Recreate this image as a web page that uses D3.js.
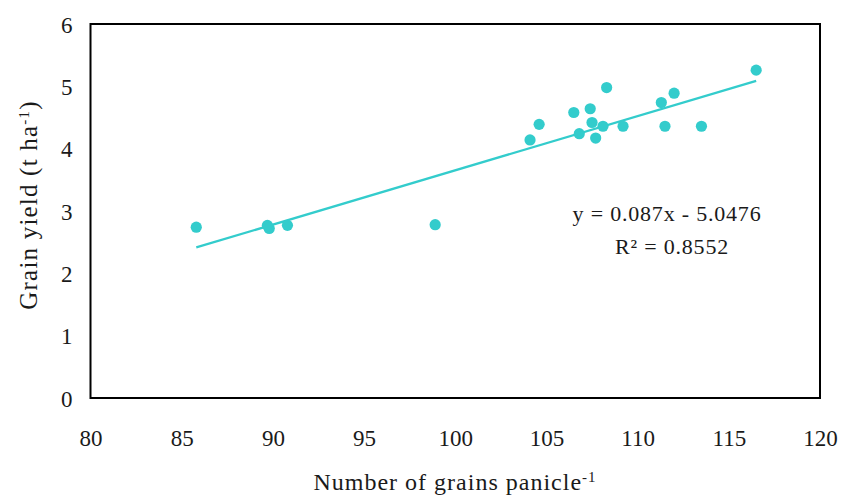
<!DOCTYPE html>
<html>
<head>
<meta charset="utf-8">
<script src="https://cdn.jsdelivr.net/npm/d3@7"></script>
<style>
  html, body { margin: 0; padding: 0; background: #fff; }
  svg text { font-family: "Liberation Serif", "Times New Roman", serif; fill: #1a1a1a; }
</style>
</head>
<body>
<svg id="chart" width="842" height="498"></svg>
<script>
// Grains per panicle vs. grain yield
const grains = [85.8, 89.7, 89.8, 90.8, 98.9, 104.1, 104.6, 106.5, 106.8, 107.4,
                107.5, 107.7, 108.1, 108.3, 109.2, 111.3, 111.5, 112.0, 113.5, 116.5];
const grainYield = [2.74, 2.77, 2.72, 2.77, 2.78, 4.14, 4.39, 4.58, 4.24, 4.64,
                    4.42, 4.17, 4.36, 4.98, 4.36, 4.74, 4.36, 4.89, 4.36, 5.26];

// Linear fit reported on the chart
const slope = 0.087;
const intercept = -5.0476;
const equationText = "y = 0.087x - 5.0476";
const r2Text = "R² = 0.8552";

const xTicks = [80, 85, 90, 95, 100, 105, 110, 115, 120];
const yTicks = [0, 1, 2, 3, 4, 5, 6];

const svg = d3.select("#chart");
const plot = { left: 90.5, right: 820, top: 24, bottom: 398 };
const color = "#33cccc";

const x = d3.scaleLinear().domain([80, 120]).range([plot.left, plot.right]);
const y = d3.scaleLinear().domain([0, 6]).range([plot.bottom, plot.top]);

// Axes: labels only, no tick marks or domain path
const xAxis = svg.append("g")
  .attr("transform", `translate(0,${plot.bottom})`)
  .call(d3.axisBottom(x).tickValues(xTicks).tickSize(0).tickPadding(0).tickFormat(d3.format("d")));
xAxis.select(".domain").remove();
xAxis.selectAll("text")
  .attr("y", 48).attr("dy", null)
  .style("font-size", "23px");

const yAxis = svg.append("g")
  .attr("transform", `translate(${plot.left},0)`)
  .call(d3.axisLeft(y).tickValues(yTicks).tickSize(0).tickPadding(0).tickFormat(d3.format("d")));
yAxis.select(".domain").remove();
yAxis.selectAll("text")
  .attr("x", -18).attr("dy", "0.36em")
  .style("font-size", "23px");

// Plot frame
svg.append("rect")
  .attr("x", plot.left).attr("y", plot.top)
  .attr("width", plot.right - plot.left).attr("height", plot.bottom - plot.top)
  .attr("fill", "none").attr("stroke", "#000").attr("stroke-width", 2);

// Trend line over the observed range
const xExtent = d3.extent(grains);
svg.append("line")
  .attr("x1", x(xExtent[0])).attr("y1", y(slope * xExtent[0] + intercept))
  .attr("x2", x(xExtent[1])).attr("y2", y(slope * xExtent[1] + intercept))
  .attr("stroke", color).attr("stroke-width", 2.3);

// Observations
svg.append("g").selectAll("circle")
  .data(grains.map((g, i) => [g, grainYield[i]]))
  .join("circle")
  .attr("cx", d => x(d[0])).attr("cy", d => y(d[1]))
  .attr("r", 5.6)
  .attr("fill", color);

// Regression equation and R²
svg.append("text")
  .attr("x", 667).attr("y", 221)
  .attr("text-anchor", "middle")
  .style("font-size", "22px").style("letter-spacing", "0.8px")
  .text(equationText);
svg.append("text")
  .attr("x", 672).attr("y", 254)
  .attr("text-anchor", "middle")
  .style("font-size", "22px").style("letter-spacing", "0.8px")
  .text(r2Text);

// Axis titles
const xTitle = svg.append("text")
  .attr("x", 455).attr("y", 490)
  .attr("text-anchor", "middle")
  .style("font-size", "24px").style("letter-spacing", "1px");
xTitle.append("tspan").text("Number of grains panicle");
xTitle.append("tspan").attr("baseline-shift", "super").style("font-size", "15px").text("-1");

const yTitle = svg.append("text")
  .attr("transform", "translate(37,205) rotate(-90)")
  .attr("text-anchor", "middle")
  .style("font-size", "25px").style("letter-spacing", "1.2px");
yTitle.append("tspan").text("Grain yield (t ha");
yTitle.append("tspan").attr("baseline-shift", "super").style("font-size", "15px").text("-1");
yTitle.append("tspan").text(")");
</script>
</body>
</html>
